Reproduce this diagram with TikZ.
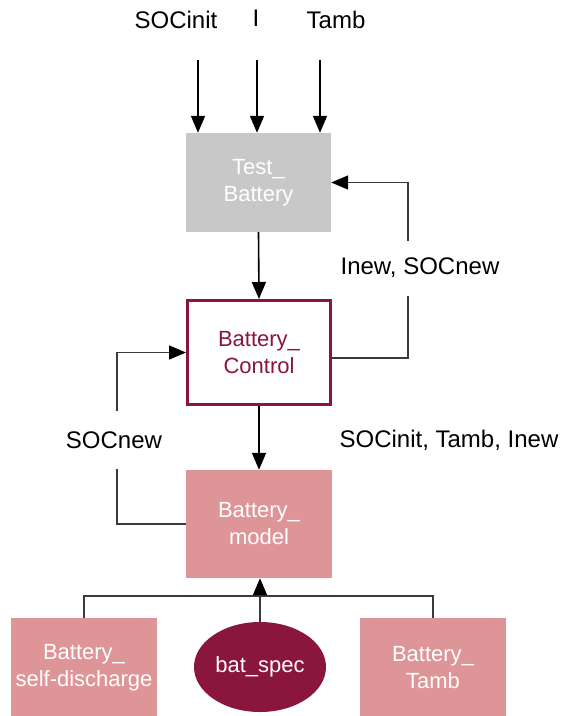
\documentclass[tikz,border=0pt]{standalone}
\usepackage{fontspec}
\setmainfont{Liberation Sans}
\usetikzlibrary{arrows.meta,shapes.geometric}
\definecolor{boxgray}{HTML}{C8C8C8}
\definecolor{darkred}{HTML}{8A163E}
\definecolor{pinkfill}{HTML}{DE9597}
\definecolor{linegray}{HTML}{3A3A3A}
\begin{document}
\begin{tikzpicture}[x=1pt,y=-1pt,
  lbl/.style={font=\fontsize{24}{28}\selectfont, text=black, inner sep=1pt},
  btxt/.style={font=\fontsize{22}{27}\selectfont, align=center, inner sep=0pt},
  graybox/.style={btxt, fill=boxgray, text=white, minimum width=145pt, minimum height=99pt},
  ctrlbox/.style={btxt, draw=darkred, line width=3pt, fill=white, text=darkred, minimum width=143pt, minimum height=104pt},
  pinkbox/.style={btxt, fill=pinkfill, text=white, minimum width=146pt, minimum height=99pt},
  specell/.style={btxt, ellipse, fill=darkred, text=white, minimum width=132pt, minimum height=90pt},
  conn/.style={line width=1.6pt, draw=black, -{Triangle[length=17pt,width=14pt]}},
  fb/.style={line width=1.6pt, draw=linegray, -{Triangle[length=17pt,width=14pt,black]}},
  plain/.style={line width=1.6pt, draw=linegray},
  gaplbl/.style={lbl, fill=white, inner xsep=2pt}
]
\useasboundingbox (0,0) rectangle (566,716);

% blocks
\node[graybox] (tb) at (258.5,182.5) {Test\_\\Battery};
\node[ctrlbox] (bc) at (259,352.5) {Battery\_\\Control};
\node[pinkbox] (bm) at (259,524) [minimum height=108pt] {Battery\_\\model};
\node[pinkbox] (sd) at (84,667.5) {Battery\_\\self-discharge};
\node[specell] (bs) at (260,667) {bat\_spec};
\node[pinkbox] (bt) at (433,667.5) {Battery\_\\Tamb};

% inputs
\node[lbl] (lsoc) at (176,20) {SOCinit};
\node[lbl] (li) at (256,18) {I};
\node[lbl] (ltamb) at (336,20) {Tamb};
\coordinate (in1) at (198,60);
\coordinate (in2) at (257,60);
\coordinate (in3) at (320,60);
\draw[conn] (in1) -- (tb.north -| in1);
\draw[conn] (in2) -- (tb.north -| in2);
\draw[conn] (in3) -- (tb.north -| in3);

% main chain
\draw[conn] (tb.south) -- (bc.north);
\draw[conn] (bc.south) -- (bm.south |- bm.north);
\node[lbl] (lsti) at (449,440) {SOCinit, Tamb, Inew};

% right feedback
\coordinate (fr1) at (408,358);
\coordinate (fr2) at (408,182.5);
\draw[fb] ([yshift=-5.5pt]bc.east) -- (fr1) -- (fr2) -- (tb.east);
\node[gaplbl, minimum height=55pt] (lins) at (420,268) {Inew, SOCnew};

% left feedback
\coordinate (fl1) at (117,524);
\coordinate (fl2) at (117,352.5);
\draw[fb] (bm.west) -- (fl1) -- (fl2) -- (bc.west);
\node[gaplbl, minimum height=58pt] (lsn) at (114,440) {SOCnew};

% bottom bus
\coordinate (bl) at (84,596);
\coordinate (br) at (433,596);
\draw[plain] (sd.north) -- (bl) -- (br) -- (bt.north);
\draw[fb] (bs.north) -- (bs.north |- bm.south);
\end{tikzpicture}
\end{document}
